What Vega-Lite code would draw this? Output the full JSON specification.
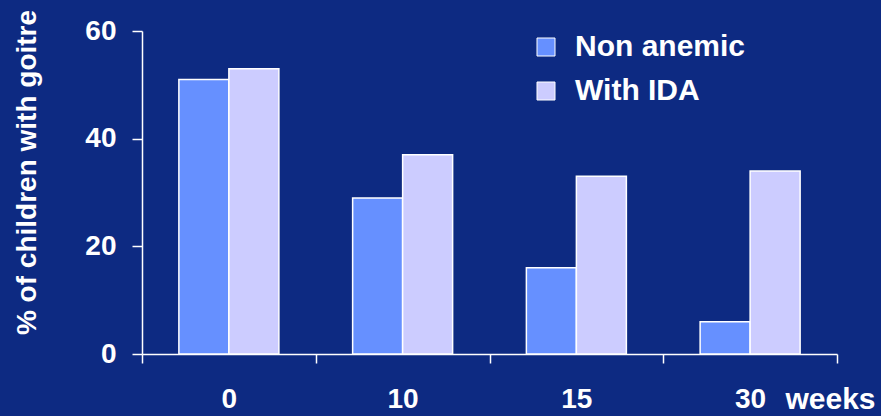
{
  "$schema": "https://vega.github.io/schema/vega-lite/v6.json",
  "autosize": {"type": "none"},
  "padding": {"left": 142, "top": 31, "right": 44, "bottom": 62},
  "width": 695,
  "height": 323,
  "background": "#0D2A82",
  "data": {
    "values": [
      {"week": "0", "group": "Non anemic", "pct": 51},
      {"week": "0", "group": "With IDA", "pct": 53},
      {"week": "10", "group": "Non anemic", "pct": 29},
      {"week": "10", "group": "With IDA", "pct": 37},
      {"week": "15", "group": "Non anemic", "pct": 16},
      {"week": "15", "group": "With IDA", "pct": 33},
      {"week": "30", "group": "Non anemic", "pct": 6},
      {"week": "30", "group": "With IDA", "pct": 34}
    ]
  },
  "mark": {"type": "bar", "stroke": "white", "strokeWidth": 1.5},
  "encoding": {
    "x": {
      "field": "week",
      "type": "ordinal",
      "sort": ["0", "10", "15", "30"],
      "scale": {"paddingInner": 0, "paddingOuter": 0},
      "axis": {
        "tickBand": "extent",
        "tickSize": 9,
        "labelPadding": 22,
        "labelAngle": 0,
        "labelFontSize": 28,
        "title": "weeks",
        "titleAngle": 0,
        "titleAlign": "right",
        "titleBaseline": "alphabetic",
        "titleX": 733,
        "titleY": 54,
        "titleFontSize": 30
      }
    },
    "xOffset": {
      "field": "group",
      "type": "nominal",
      "sort": ["Non anemic", "With IDA"],
      "scale": {"paddingInner": 0, "paddingOuter": 0.7375}
    },
    "y": {
      "field": "pct",
      "type": "quantitative",
      "scale": {"domain": [0, 60], "nice": false},
      "axis": {
        "values": [0, 20, 40, 60],
        "grid": false,
        "tickSize": 10,
        "labelPadding": 16,
        "labelFontSize": 28,
        "title": "% of children with goitre",
        "titleFontSize": 28,
        "titleAngle": -90,
        "titleAlign": "center",
        "titleBaseline": "alphabetic",
        "titleX": -107,
        "titleY": 141
      }
    },
    "color": {
      "field": "group",
      "type": "nominal",
      "sort": ["Non anemic", "With IDA"],
      "scale": {"domain": ["Non anemic", "With IDA"], "range": ["#6690FF", "#CCCCFF"]},
      "legend": {
        "title": null,
        "orient": "none",
        "legendX": 389,
        "legendY": 1,
        "padding": 0,
        "symbolType": "square",
        "symbolSize": 324,
        "symbolStrokeColor": "white",
        "symbolStrokeWidth": 1,
        "symbolOpacity": 1,
        "labelFontSize": 30,
        "labelOffset": 14,
        "rowPadding": 14
      }
    }
  },
  "config": {
    "font": "Liberation Sans",
    "view": {"stroke": null},
    "axis": {
      "domainColor": "white",
      "domainWidth": 1.5,
      "tickColor": "white",
      "tickWidth": 1.5,
      "labelColor": "white",
      "labelFont": "Liberation Sans",
      "labelFontWeight": "bold",
      "titleColor": "white",
      "titleFont": "Liberation Sans",
      "titleFontWeight": "bold"
    },
    "legend": {
      "labelColor": "white",
      "labelFont": "Liberation Sans",
      "labelFontWeight": "bold",
      "labelLimit": 300
    }
  }
}
